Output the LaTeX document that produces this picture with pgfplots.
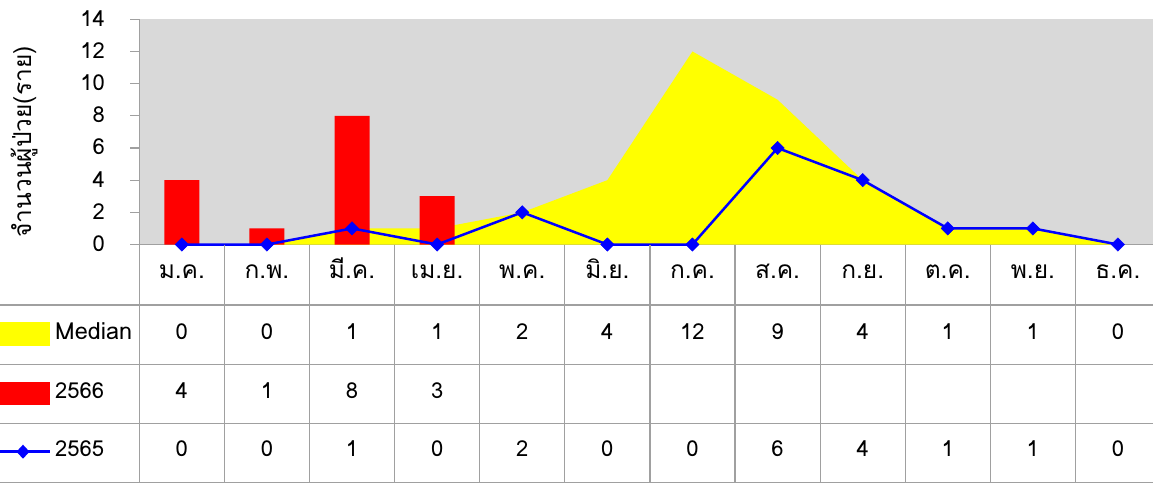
\documentclass[border=0pt]{standalone}
\usepackage{pgfplots}
\pgfplotsset{compat=1.18}
\usepackage{fontspec}
\setmainfont[Script=Thai]{Loma}
\definecolor{bgray}{HTML}{D9D9D9}
\definecolor{lgray}{HTML}{A0A0A0}
\definecolor{myyellow}{HTML}{FFFF00}
\definecolor{myred}{HTML}{FF0000}
\definecolor{myblue}{HTML}{0000FF}
\begin{document}
\begin{tikzpicture}[x=1pt,y=1pt]
\path[use as bounding box] (0pt,0pt) rectangle (1153pt,483pt);
\begin{axis}[
  at={(139.3pt,238.5pt)}, anchor=south west,
  scale only axis, width=1021.2pt, height=225.2pt,
  xmin=-0.5, xmax=11.5, ymin=0, ymax=14,
  ytick={0,2,...,14}, xtick=\empty,
  axis lines*=left,
  axis line style={draw=lgray, line width=1.2pt},
  tick style={draw=lgray, line width=1.2pt},
  tick align=outside, major tick length=9pt,
  axis background/.style={fill=bgray},
  /pgf/number format/assume math mode=true,
  ticklabel style={font=\fontsize{22}{26}\selectfont},
  yticklabel style={xshift=-22pt, yshift=1pt},
  clip=false,
]
\addplot[fill=myyellow, draw=none] coordinates {(0,0) (1,0) (2,1) (3,1) (4,2) (5,4) (6,12) (7,9) (8,4) (9,1) (10,1) (11,0)} \closedcycle;
\addplot[ybar, bar width=35pt, fill=myred, draw=none] coordinates {(0,4) (1,1) (2,8) (3,3)};
\addplot[myblue, line width=2.5pt, mark=square*, mark size=4.7pt, mark options={rotate=45, fill=myblue, draw=myblue, line width=0.5pt}] coordinates {(0,0) (1,0) (2,1) (3,0) (4,2) (5,0) (6,0) (7,6) (8,4) (9,1) (10,1) (11,0)};
\end{axis}
% y label
\node[rotate=90, font=\fontsize{24.5}{28}\selectfont] at (24pt,341pt) {จำนวนผู้ป่วย(ราย)};
% table lines
\foreach \yy in {178,118.5,59.5,0.7} \draw[lgray, line width=1.2pt] (0pt,\yy pt) -- (1165pt,\yy pt);
\foreach \k in {0,...,12} \draw[lgray, line width=1.2pt] ({139.3pt+\k*85.1pt},238.5pt) -- ({139.3pt+\k*85.1pt},0pt);
% header
\foreach \m [count=\i from 0] in {ม.ค.,ก.พ.,มี.ค.,เม.ย.,พ.ค.,มิ.ย.,ก.ค.,ส.ค.,ก.ย.,ต.ค.,พ.ย.,ธ.ค.}
  \node[anchor=base, font=\fontsize{24.5}{28}\selectfont, inner sep=0pt] at ({181.85pt+\i*85.1pt},204.7pt) {\m};
\foreach \v [count=\i from 0] in {0,0,1,1,2,4,12,9,4,1,1,0}
  \node[anchor=base, font=\fontsize{22}{26}\selectfont, inner sep=0pt] at ({181.85pt+\i*85.1pt},143.7pt) {\v};
\foreach \v [count=\i from 0] in {4,1,8,3}
  \node[anchor=base, font=\fontsize{22}{26}\selectfont, inner sep=0pt] at ({181.85pt+\i*85.1pt},84.7pt) {\v};
\foreach \v [count=\i from 0] in {0,0,1,0,2,0,0,6,4,1,1,0}
  \node[anchor=base, font=\fontsize{22}{26}\selectfont, inner sep=0pt] at ({181.85pt+\i*85.1pt},26.3pt) {\v};
% legend keys
\fill[myyellow] (0pt,137pt) rectangle (50pt,161.3pt);
\fill[myred] (0pt,78pt) rectangle (50pt,101.3pt);
\draw[myblue, line width=2.5pt] (0pt,31.3pt) -- (50pt,31.3pt);
\fill[myblue] (23pt,38.3pt) -- (29.5pt,31.3pt) -- (23pt,24.3pt) -- (16.5pt,31.3pt) -- cycle;
\node[anchor=base west, font=\fontsize{23.5}{27}\selectfont, inner sep=0pt] at (55pt,143.7pt) {Median};
\node[anchor=base west, font=\fontsize{22}{26}\selectfont, inner sep=0pt] at (55pt,84.7pt) {2566};
\node[anchor=base west, font=\fontsize{22}{26}\selectfont, inner sep=0pt] at (55pt,26.3pt) {2565};
\end{tikzpicture}
\end{document}
